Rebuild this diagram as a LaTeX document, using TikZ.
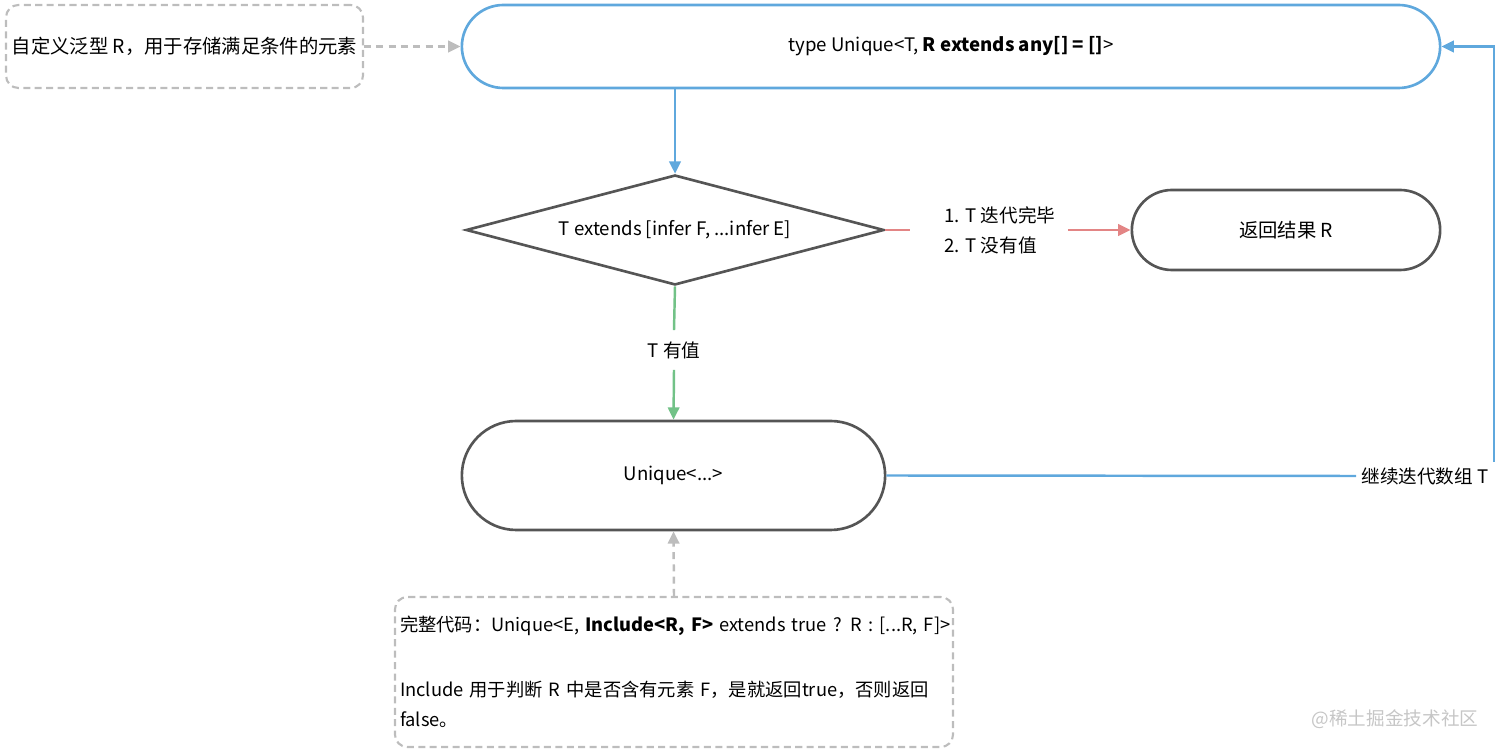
\documentclass[tikz,border=0pt]{standalone}
\usepackage{fontspec}
\setmainfont{Noto Sans CJK SC}
\usetikzlibrary{shapes.geometric, shapes.misc, arrows.meta, positioning}
\definecolor{lineblue}{HTML}{5FA8DD}
\definecolor{linered}{HTML}{E38585}
\definecolor{linegreen}{HTML}{72C287}
\definecolor{boxgray}{HTML}{555555}
\definecolor{dashgray}{HTML}{BDBDBD}

\begin{document}
\begin{tikzpicture}[
  font=\fontsize{10.6}{12}\selectfont,
  pill/.style={rounded rectangle, draw=boxgray, line width=1.5pt, fill=white, align=center},
  cond/.style={diamond, aspect=3.8, draw=boxgray, line width=1.5pt, inner sep=0pt, align=center},
  note/.style={rectangle, rounded corners=7pt, draw=dashgray, dashed, dash pattern=on 4pt off 2.5pt, line width=1.2pt, align=left},
  lbl/.style={font=\fontsize{10.6}{17}\selectfont, align=left},
  arr/.style={-{Triangle[length=7pt, width=6.5pt]}, line width=1.4pt},
  blueln/.style={draw=lineblue, line width=1.4pt},
  redln/.style={draw=linered, line width=1.4pt},
  greenln/.style={draw=linegreen, line width=1.4pt},
  dasharr/.style={arr, draw=dashgray, dash pattern=on 4pt off 3pt},
]
\useasboundingbox (0,0) rectangle (30.24,-15.02);

\node[note, minimum width=7.1cm, minimum height=1.66cm, font=\fontsize{11}{12}\selectfont] (note1) at (3.69,-0.93) {自定义泛型 R，用于存储满足条件的元素};
\node[pill, draw=lineblue, minimum width=19.8cm, minimum height=1.66cm] (top) at (19.02,-0.93) {type Unique<T, \textbf{R extends any[] = []}>};
\node[cond, minimum width=8.36cm, minimum height=2.2cm] (test) at (13.5,-4.6) {T extends [infer F, ...infer E]};
\node[pill, minimum width=6.4cm, minimum height=1.6cm, font=\fontsize{11}{12}\selectfont] (ret) at (25.72,-4.6) {返回结果 R};
\node[lbl, inner xsep=0.24cm] (done) at (20.0,-4.6) {1. T 迭代完毕\\2. T 没有值};
\node[lbl, inner ysep=0.22cm] (hasval) at (13.48,-7.0) {T 有值};
\node[pill, minimum width=8.7cm, minimum height=2.18cm] (uniq) at (13.47,-9.51) {Unique<...>};
\node[lbl, inner xsep=0.1cm, inner ysep=0.1cm] (cont) at (28.5,-9.52) {继续迭代数组 T};
\node[note, minimum width=11.16cm, minimum height=3cm, text width=10.96cm, inner xsep=0.1cm, lbl, font=\fontsize{10.4}{17}\selectfont] (note2) at (13.48,-13.44)
  {\mbox{完整代码：Unique<E, \textbf{Include<R, F>} extends true ? R : [...R, F]>}\\[20pt]
   Include 用于判断 R 中是否含有元素 F，是就返回true，否则返回\\false。};
\node[text=gray!45, font=\fontsize{10.6}{12}\selectfont] (mark) at (27.9,-14.38) {@稀土掘金技术社区};

\draw[dasharr] (note1.east) -- (top.west);
\draw[arr, draw=lineblue] (test.north |- top.south) -- (test.north);
\draw[redln, shorten >=0.45cm] (test.east) -- (done.west);
\draw[arr, draw=linered] (done.east) -- (ret.west);
\draw[greenln] (test.south) -- (hasval.north);
\draw[arr, draw=linegreen] (hasval.south) -- (uniq.north);
\draw[blueln] (uniq.east) -- (cont.west);
\draw[arr, draw=lineblue] (cont.north east) |- (top.east);
\draw[dasharr] (note2.north) -- (uniq.south);
\end{tikzpicture}
\end{document}
